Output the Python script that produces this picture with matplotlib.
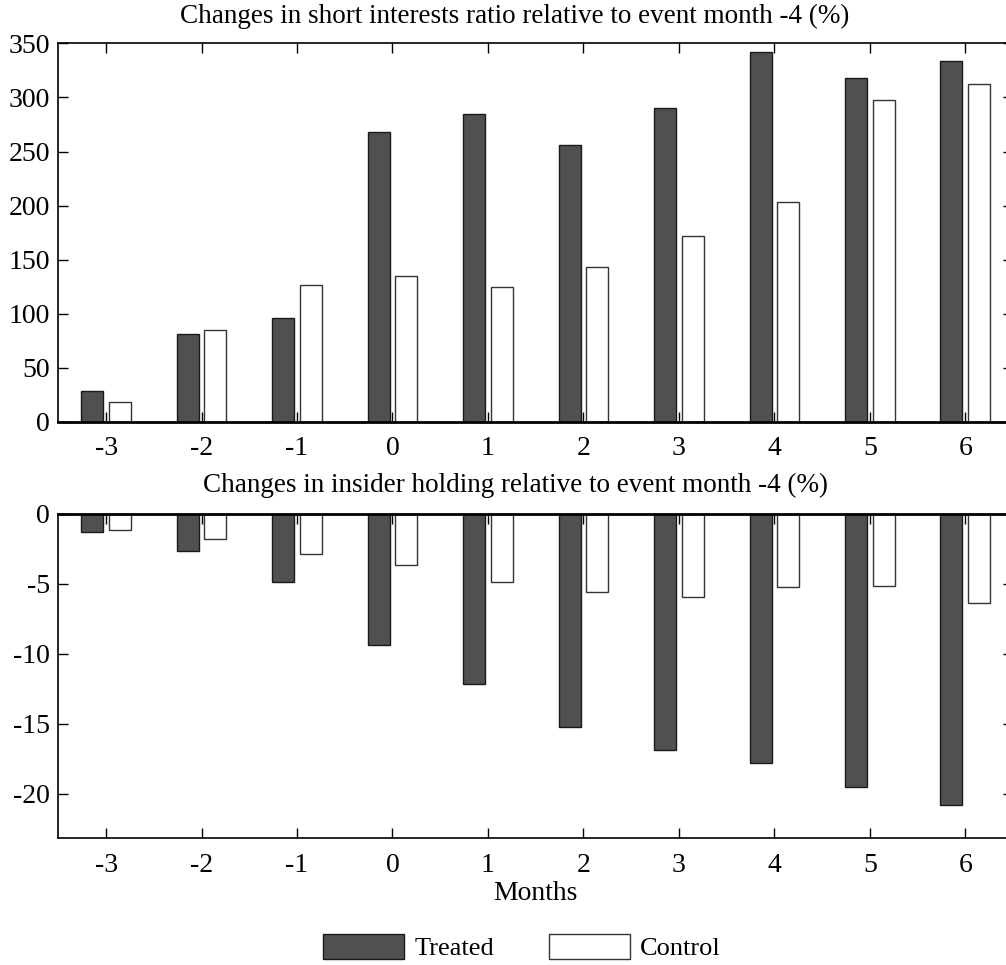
import numpy as np
import matplotlib
matplotlib.use('Agg')
import matplotlib.pyplot as plt

plt.rcParams['font.family'] = ['Liberation Serif', 'DejaVu Serif']
plt.rcParams['axes.unicode_minus'] = False

months = [-3, -2, -1, 0, 1, 2, 3, 4, 5, 6]
short_treated = [28, 81, 96, 268, 285, 256, 290.5, 342, 318, 334]
short_control = [18.5, 84.5, 126.5, 135, 125, 143.5, 172, 203.5, 298, 312.5]
insider_treated = [-1.3, -2.65, -4.9, -9.35, -12.15, -15.25, -16.85, -17.8, -19.5, -20.85]
insider_control = [-1.15, -1.8, -2.85, -3.65, -4.85, -5.55, -5.95, -5.2, -5.15, -6.35]

dark = '#505050'
x = np.array(months)
off = 0.145
w = 0.23

fig = plt.figure(figsize=(10.06, 9.65), dpi=100)
ax1 = fig.add_axes([0.058, 0.563, 0.949, 0.392])
ax2 = fig.add_axes([0.058, 0.1313, 0.949, 0.3361])


def style(ax):
    ax.set_xlim(-3.5, 6.5)
    ax.set_xticks(months)
    ax.tick_params(direction='in', length=7, width=1, top=True, right=True,
                   labelsize=20, pad=6)
    ax.tick_params(axis='x', pad=10.5)
    for s in ax.spines.values():
        s.set_linewidth(1.2)


ax1.bar(x - off, short_treated, w, color=dark, edgecolor='#1a1a1a', linewidth=1, label='Treated')
ax1.bar(x + off, short_control, w, color='white', edgecolor='#333333', linewidth=1, label='Control')
ax1.set_ylim(0, 350)
ax1.set_yticks(range(0, 351, 50))
style(ax1)
ax1.spines['bottom'].set_linewidth(2)
ax1.set_title('Changes in short interests ratio relative to event month -4 (%)',
              fontsize=19.5, x=0.4785, pad=15)

ax2.bar(x - off, insider_treated, w, color=dark, edgecolor='#1a1a1a', linewidth=1)
ax2.bar(x + off, insider_control, w, color='white', edgecolor='#333333', linewidth=1)
ax2.set_ylim(-23.2, 0)
ax2.set_yticks([0, -5, -10, -15, -20])
style(ax2)
ax2.spines['top'].set_linewidth(2)
ax2.set_title('Changes in insider holding relative to event month -4 (%)',
              fontsize=19.5, x=0.4785, pad=16)
ax2.set_xlabel('Months', fontsize=20, labelpad=2)

h, l = ax1.get_legend_handles_labels()
fig.legend(h, l, loc='center', bbox_to_anchor=(0.519, 0.0185), ncol=2,
           frameon=False, fontsize=19, handlelength=3.07, handleheight=1.1,
           columnspacing=2.08, handletextpad=0.38)

fig.savefig('out.png', dpi=100)
